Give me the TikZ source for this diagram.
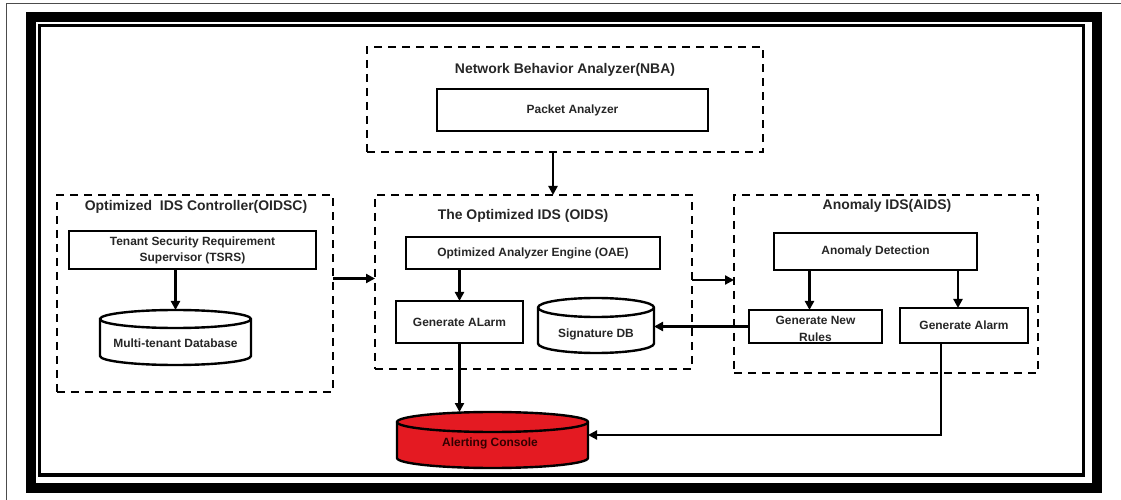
\documentclass[tikz,border=0pt]{standalone}
\usepackage{fontspec}
\setmainfont{Liberation Sans}
\usetikzlibrary{arrows.meta,fit,calc}
\definecolor{dbred}{RGB}{228,26,34}

% database cylinder: name, centre x, top y, bottom y, x radius, y radius, fill
\newcommand{\drawdb}[7]{%
  \draw[dbshape, fill=#7] (#2-#5,#3+#6) -- (#2-#5,#4-#6)
     arc[start angle=180, end angle=0, x radius=#5, y radius=#6]
     -- (#2+#5,#3+#6)
     arc[start angle=0, end angle=-180, x radius=#5, y radius=#6] -- cycle;
  \draw[dbshape] (#2-#5,#3+#6)
     arc[start angle=180, end angle=0, x radius=#5, y radius=#6];
  \node[dbarea, fit={(#2-#5,#3) (#2+#5,#4)}] (#1) {};
}

\begin{document}
\begin{tikzpicture}[x=1bp,y=-1bp,
  size/.style 2 args={minimum width=#1bp, minimum height=#2bp},
  grp/.style={draw, line width=2.6bp, dash pattern=on 8bp off 6bp, inner sep=0pt, outer sep=0pt},
  box/.style={draw, line width=2.4bp, inner sep=0pt, outer sep=0pt,
              font=\fontsize{12}{16}\selectfont\bfseries, text=black!85, align=center},
  ttl/.style={font=\fontsize{14}{16}\selectfont\bfseries, text=black!85, inner sep=0pt},
  lbl/.style={font=\fontsize{12}{14}\selectfont\bfseries, text=black!85, inner sep=0pt, align=center},
  flow/.style={line width=2.2bp, -{Triangle[length=9bp,width=9bp]}},
  dbshape/.style={draw, line width=2.4bp},
  dbarea/.style={inner sep=0pt, outer sep=0pt},
]
\useasboundingbox (0,0) rectangle (1121,500);

% page edge lines and the double frame
\draw[black!70, line width=1bp] (6,500) -- (6,4) -- (1121,4);
\draw[line width=10bp] (30.5,17.5) rectangle (1096.5,488);
\draw[line width=3.5bp] (39.5,25.5) rectangle (1083.5,475);

% Network Behavior Analyzer
\node[grp, size={396}{105}] (nba) at (565,99.5) {};
\node[ttl] (nbatitle) at (565,70) {Network Behavior Analyzer(NBA)};
\node[box, size={271}{42}] (packet) at (572.5,110) {Packet Analyzer};

% Optimized IDS Controller
\node[grp, size={276}{197}] (oidsc) at (195,293.5) {};
\node[ttl] (oidsctitle) at (196,207) {Optimized\ \ IDS Controller(OIDSC)};
\node[box, size={247}{38}] (tsrs) at (192.5,250) {Tenant Security Requirement\\Supervisor (TSRS)};
\drawdb{mtdb}{175.5}{310}{365}{75.5}{9}{white}
\node[lbl] (mtdbtext) at (175.5,343) {Multi-tenant Database};

% The Optimized IDS
\node[grp, size={317}{174}] (oids) at (533.5,282) {};
\node[ttl] (oidstitle) at (523,216) {The Optimized IDS (OIDS)};
\node[box, size={254}{32}] (oae) at (533,253) {Optimized Analyzer Engine (OAE)};
\node[box, size={127}{42}] (galarm) at (459.5,322) {Generate ALarm};
\drawdb{sigdb}{596}{298}{353}{58}{9.5}{white}
\node[lbl] (sigtext) at (596,334) {Signature DB};

% Anomaly IDS
\node[grp, size={304}{178}] (aids) at (886,284) {};
\node[ttl] (aidstitle) at (887,206) {Anomaly IDS(AIDS)};
\node[box, size={203}{37}] (anomaly) at (875.5,251.5) {Anomaly Detection};
\node[box, size={133}{33}] (newrules) at (815.5,326.5) {};
\node[lbl, font=\fontsize{12}{17}\selectfont\bfseries] (newrulestext) at (815.5,329) {Generate New\\Rules};
\node[box, size={128}{35}] (aalarm) at (964,325.5) {Generate Alarm};

% alert store
\drawdb{alerts}{492.5}{412}{468}{95.5}{10}{dbred}
\node[lbl, text=black!80!red] (alertstext) at (490,443) {Alerting Console};

% connectors
\draw[flow] ([xshift=-12bp]nba.south) -- ([xshift=-12bp]nba.south |- oids.north);
\draw[flow] (tsrs.south -| mtdb.north) -- (mtdb.north);
\draw[flow] ([yshift=15bp]oidsc.east) -- ([yshift=15bp]oidsc.east -| oids.west);
\draw[flow] (oae.south -| galarm.north) -- (galarm.north);
\draw[flow] ([yshift=2bp]oids.east) -- ([yshift=2bp]oids.east -| aids.west);
\draw[flow] ([xshift=-6bp]newrules.north |- anomaly.south) -- ([xshift=-6bp]newrules.north);
\draw[flow] ([xshift=-6bp]aalarm.north |- anomaly.south) -- ([xshift=-6bp]aalarm.north);
\draw[flow] (newrules.west) -- (newrules.west -| sigdb.east);
\draw[flow] (galarm.south) -- (galarm.south |- alerts.north);
\draw[flow] ([xshift=-23bp]aalarm.south) |- ([yshift=5bp]alerts.east);

\end{tikzpicture}
\end{document}
